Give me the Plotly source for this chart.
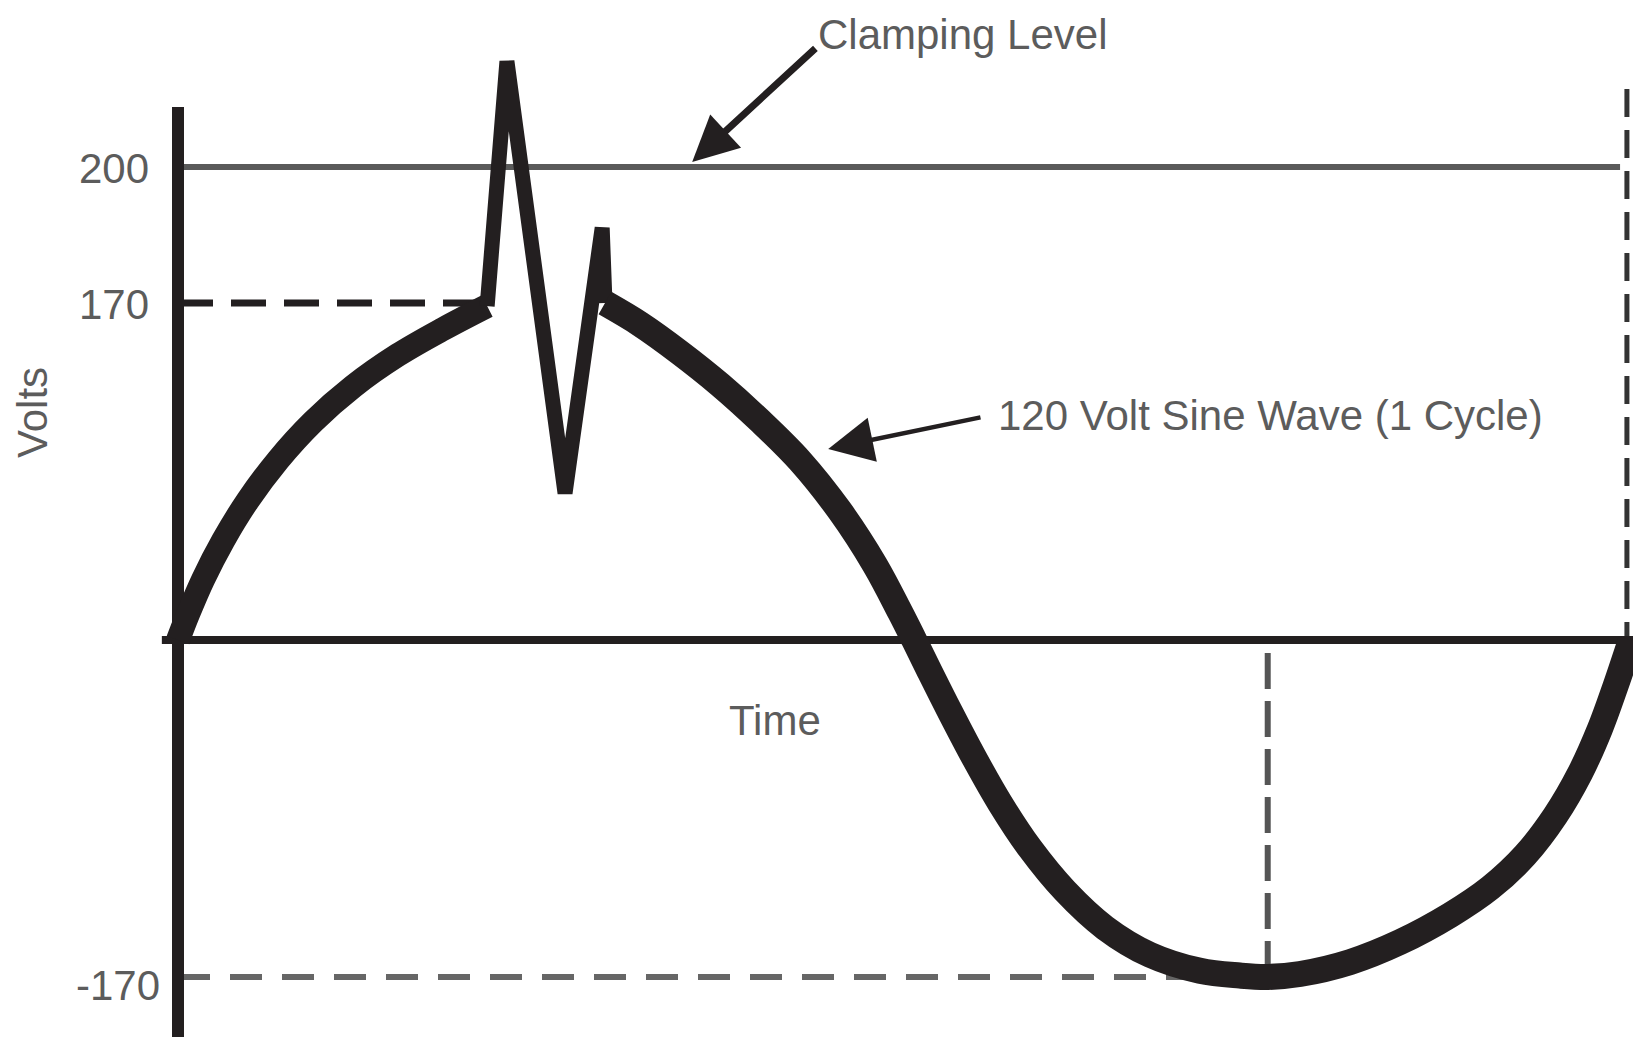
import plotly.graph_objects as go

# ---- Data (phase in degrees, voltage in schematic volts; sketch not to scale above 170 V) ----
rise_phase = [0, 2.5, 6.2, 11.2, 17.3, 24.8, 33.5, 43.4, 54.5, 65.7, 76.6]
rise_volts = [0, 13.1, 30.5, 50.2, 70.4, 90.8, 110.2, 127.9, 143.8, 156.9, 168.5]

spike_phase = [76.6, 81.5, 95.9, 105.1, 105.8]
spike_volts = [168.5, 292.0, 74.0, 208.0, 170.0]

fall_phase = [105.8, 114.5, 124.4, 134.3, 144.2, 154.1, 164.0, 172.7, 178.9, 182.4, 186.3,
              191.3, 197.5, 203.7, 211.1, 219.8, 229.7, 240.8, 253.2, 263.1, 270.0, 278.0,
              290.4, 302.8, 315.2, 325.1, 333.8, 341.2, 347.4, 352.3, 356.1, 360.0]
fall_volts = [170.0, 159.4, 144.9, 128.8, 110.6, 90.4, 65.1, 37.8, 14.1, 0, -16.1,
              -36.3, -60.3, -82.4, -105.1, -126.6, -145.2, -158.8, -166.9, -169.3, -170.0, -168.5,
              -162.5, -152.4, -138.8, -125.1, -108.5, -88.8, -67.1, -44.9, -23.7, 0]

tick_positions = [238.6, 170, -170]   # schematic positions of the labelled levels
tick_labels = ["200", "170", "-170"]

clamp_level = 238.6      # drawn level of the 200 V clamping line (schematic)
peak_level = 170
trough_level = -170
trough_phase = 270
cycle_end = 359

INK = "#231f20"
TEXT = "#5c5c5c"
FONT = "Liberation Sans, Arial, sans-serif"

fig = go.Figure()

fig.add_trace(go.Scatter(x=rise_phase, y=rise_volts, mode="lines",
                         line=dict(color=INK, width=24, shape="spline", smoothing=1.0),
                         hoverinfo="skip", showlegend=False))
fig.add_trace(go.Scatter(x=spike_phase, y=spike_volts, mode="lines",
                         line=dict(color=INK, width=15), hoverinfo="skip", showlegend=False))
fig.add_trace(go.Scatter(x=fall_phase, y=fall_volts, mode="lines",
                         line=dict(color=INK, width=26, shape="spline", smoothing=1.0),
                         hoverinfo="skip", showlegend=False))

shapes = [
    # clamping level
    dict(type="line", x0=0, x1=357.3, y0=clamp_level, y1=clamp_level,
         line=dict(color="#5a5a5a", width=6)),
    # +170 dashed
    dict(type="line", x0=0, x1=75, y0=peak_level, y1=peak_level,
         line=dict(color=INK, width=7, dash="35px,18px")),
    # -170 dashed
    dict(type="line", x0=0, x1=250, y0=trough_level, y1=trough_level,
         line=dict(color="#666666", width=6, dash="32px,20px")),
    # trough vertical dashed
    dict(type="line", x0=trough_phase, x1=trough_phase, y0=-6.6, y1=trough_level,
         line=dict(color="#555555", width=6, dash="36px,12px")),
    # end of cycle vertical dashed
    dict(type="line", x0=cycle_end, x1=cycle_end, y0=278, y1=0,
         line=dict(color="#333333", width=5, dash="28px,13px")),
    # zero (time) axis
    dict(type="line", x0=-4, x1=366, y0=0, y1=0, line=dict(color=INK, width=8)),
    # volts axis
    dict(type="line", x0=0, x1=0, y0=268.9, y1=-210, line=dict(color=INK, width=12)),
]
for s in shapes:
    s.update(xref="x", yref="y", layer="below")

annotations = []
label_shift = {"-170": (-16, -9)}
for pos, lab in zip(tick_positions, tick_labels):
    dx, dy = label_shift.get(lab, (-27, -1))
    annotations.append(dict(x=0, y=pos, xref="x", yref="y", text=lab, showarrow=False,
                            xanchor="right", yanchor="middle", xshift=dx, yshift=dy,
                            font=dict(family=FONT, size=42, color=TEXT)))

annotations += [
    dict(x=158.1, y=305.6, text="Clamping Level", xanchor="left", yanchor="middle",
         showarrow=False, font=dict(family=FONT, size=42, color=TEXT)),
    dict(x=202.7, y=113.5, text="120 Volt Sine Wave (1 Cycle)", xanchor="left",
         yanchor="middle", showarrow=False, font=dict(family=FONT, size=42, color=TEXT)),
    dict(x=136.0, y=-40.4, text="Time", xanchor="left", yanchor="middle",
         showarrow=False, font=dict(family=FONT, size=42, color=TEXT)),
    dict(x=-36.2, y=115.0, text="Volts", textangle=-90, xanchor="center", yanchor="middle",
         showarrow=False, font=dict(family=FONT, size=42, color=TEXT)),
    # arrows
    dict(x=127.4, y=241.2, ax=158.3, ay=299.2, axref="x", ayref="y", text="",
         showarrow=True, arrowhead=2, arrowsize=1.3, arrowwidth=7, arrowcolor=INK, standoff=0),
    dict(x=161.1, y=96.4, ax=199.2, ay=112.5, axref="x", ayref="y", text="",
         showarrow=True, arrowhead=2, arrowsize=2.0, arrowwidth=4.5, arrowcolor=INK, standoff=0),
]
for a in annotations:
    a.setdefault("xref", "x")
    a.setdefault("yref", "y")

# The page body adds an 8 px margin, so the ranges are offset to place the axes correctly.
fig.update_layout(
    width=1641, height=1037,
    margin=dict(l=0, r=0, t=0, b=0),
    paper_bgcolor="white", plot_bgcolor="white",
    xaxis=dict(range=[-42.12, 364.47], visible=False, fixedrange=True),
    yaxis=dict(range=[-204.34, 318.87], visible=False, fixedrange=True),
    shapes=shapes, annotations=annotations, showlegend=False,
)

fig.write_html("out.html")
